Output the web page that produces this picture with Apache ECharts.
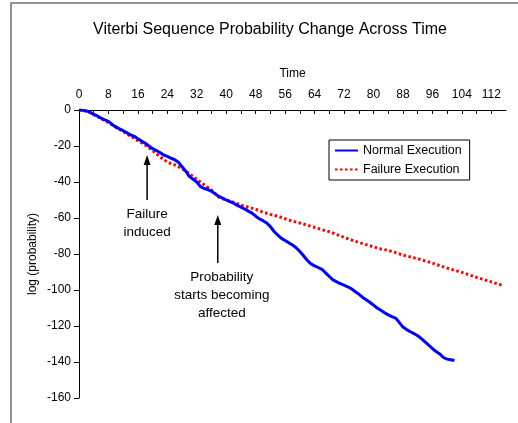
<!DOCTYPE html>
<html><head><meta charset="utf-8">
<script src="https://cdn.jsdelivr.net/npm/echarts@6/dist/echarts.min.js"></script>
<style>html,body{margin:0;padding:0;background:#fff}#c{width:518px;height:423px}</style>
</head><body><div id="c"></div>
<script>
// ---- data ----
const titleText = 'Viterbi Sequence Probability Change Across Time';
const seriesNames = ['Normal Execution', 'Failure Execution'];
const normalTime = [0,1,2,3,4,5,6,7,8,9,10,11,12,13,14,15,16,17,18,19,20,21,22,23,24,25,26,27,28,29,30,31,32,33,34,35,36,37,38,39,40,41,42,43,44,45,46,47,48,49,50,51,52,53,54,55,56,57,58,59,60,61,62,63,64,65,66,67,68,69,70,71,72,73,74,75,76,77,78,79,80,81,82,83,84,85,86,87,88,89,90,91,92,93,94,95,96,97,98,99,100,101,102];
const normalValues = [0,-0.2,-0.5,-1.2,-2.5,-3.3,-4.5,-5.5,-6.3,-8,-9.4,-10.5,-11.5,-12.6,-13.8,-14.6,-16,-17.3,-18.5,-20,-21.5,-22.5,-23.6,-25,-25.8,-26.8,-27.6,-29,-31.5,-34,-37,-38.5,-40,-42.6,-43.6,-44.2,-45.2,-46.6,-48,-49,-50,-50.9,-51.8,-53,-54,-55,-56.2,-57.3,-59,-60.5,-61.5,-62.8,-64.8,-67.5,-69.5,-71.3,-72.5,-73.8,-75,-76.5,-78.6,-81,-83.5,-85.5,-86.6,-87.5,-88.5,-90.5,-92.5,-94.4,-95.5,-96.5,-97.3,-98.2,-99.3,-100.8,-102.3,-104,-105.4,-106.8,-108.4,-110,-111.3,-112.6,-113.8,-114.8,-115.6,-118,-120.6,-122,-123.2,-124.2,-125.4,-127,-128.8,-130.6,-132.5,-134.2,-135.5,-137.5,-138.4,-138.8,-139.2];
const failureTime = [0,2,4,6,8,10,12,14,16,18,20,22,24,26,28,30,32,34,36,38,40,42,44,46,48,50,52,54,56,58,60,62,64,66,68,70,72,74,76,78,80,82,84,86,88,90,92,94,96,98,100,102,104,106,108,110,112,114,115];
const failureValues = [0,-0.6,-2.5,-4.8,-7,-9.5,-12,-14.5,-17,-19.5,-22.5,-26,-29,-30.5,-32.5,-35.5,-38.5,-41.5,-44.5,-48.5,-50,-51.3,-52.8,-54,-55.2,-56.8,-58,-59,-60.4,-61.8,-62.8,-64,-65.2,-66.5,-67.6,-69.2,-70.7,-72.2,-73.6,-74.8,-76,-77.2,-78,-79.2,-80.6,-81.6,-82.6,-83.8,-85,-86.5,-87.8,-89,-90.2,-91.6,-93,-94.2,-95.5,-96.8,-97.3];
const xTickLabels = [0,8,16,24,32,40,48,56,64,72,80,88,96,104,112];
const yTickLabels = [0,-20,-40,-60,-80,-100,-120,-140,-160];
// annotations (data coordinates)
const annotations = [
  {text:'Failure\ninduced', x:18.5, tip:-25, tail:-50, ty:-63},
  {text:'Probability\nstarts becoming\naffected', x:37.7, tip:-58.3, tail:-85, ty:-103, tx:38.8}
];

const FONT = 'Liberation Sans';
const zip = (a,b)=>a.map((v,i)=>[v,b[i]]);
const chart = echarts.init(document.getElementById('c'), null, {renderer:'canvas'});
const option = {
  animation:false,
  backgroundColor:'#fff',
  textStyle:{fontFamily:FONT},
  title:{text:titleText, left:88, top:17, textStyle:{fontFamily:FONT, fontSize:16, fontWeight:'normal', color:'#000'}},
  legend:{
    data:seriesNames, orient:'vertical', left:329, top:140,
    borderColor:'#000', borderWidth:1, padding:[4,8,4,5], itemGap:6,
    itemWidth:23, itemHeight:12,
    itemStyle:{opacity:0},
    textStyle:{fontFamily:FONT, fontSize:12.5, color:'#000'}
  },
  grid:{left:79, top:110, right:12, bottom:25, containLabel:false},
  xAxis:{
    type:'value', position:'top', min:0, max:116, interval:4,
    name:'Time', nameLocation:'middle', nameGap:30,
    nameTextStyle:{fontFamily:FONT, fontSize:12, color:'#000'},
    axisLine:{show:true, onZero:false, lineStyle:{color:'#000', width:1}},
    axisTick:{show:true, inside:true, length:4, lineStyle:{color:'#000'}},
    axisLabel:{margin:9, fontFamily:FONT, fontSize:12, color:'#000', showMaxLabel:false,
      formatter:v=> xTickLabels.indexOf(v)>=0 ? String(v) : ''},
    splitLine:{show:false}
  },
  yAxis:{
    type:'value', min:-160, max:0, interval:20,
    name:'log (probability)', nameLocation:'middle', nameRotate:90, nameGap:40, nameMoveOverlap:false,
    nameTextStyle:{fontFamily:FONT, fontSize:12, color:'#000'},
    axisLine:{show:true, onZero:false, lineStyle:{color:'#000', width:1}},
    axisTick:{show:true, inside:false, length:5, lineStyle:{color:'#000'}},
    axisLabel:{margin:8, fontFamily:FONT, fontSize:12, color:'#000',
      formatter:v=> yTickLabels.indexOf(v)>=0 ? String(v) : ''},
    splitLine:{show:false}
  },
  series:[
    {name:seriesNames[0], type:'line', symbol:'none', data:zip(normalTime, normalValues),
      lineStyle:{color:'#0000ff', width:3}, itemStyle:{color:'#0000ff'}, z:3},
    {name:seriesNames[1], type:'line', symbol:'none', data:zip(failureTime, failureValues),
      lineStyle:{color:'#ff0000', width:3, type:[2.5,2.5]}, itemStyle:{color:'#ff0000'}, z:2}
  ]
};
chart.setOption(option);

const g = [
  {type:'polyline', shape:{points:[[11,423],[11,3],[518,3]]}, style:{stroke:'#707070', lineWidth:1.5, fill:null}, silent:true}
];
annotations.forEach(a=>{
  const tip = chart.convertToPixel({gridIndex:0}, [a.x, a.tip]);
  const tail = chart.convertToPixel({gridIndex:0}, [a.x, a.tail]);
  const tp = chart.convertToPixel({gridIndex:0}, [a.tx!==undefined?a.tx:a.x, a.ty]);
  g.push({type:'line', shape:{x1:tip[0], y1:tip[1]+9, x2:tail[0], y2:tail[1]}, style:{stroke:'#000', lineWidth:1.5}, silent:true});
  g.push({type:'polygon', shape:{points:[[tip[0],tip[1]],[tip[0]-3.5,tip[1]+10],[tip[0]+3.5,tip[1]+10]]}, style:{fill:'#000'}, silent:true});
  g.push({type:'text', x:tp[0], y:tp[1], style:{text:a.text, fontFamily:FONT, fontSize:13.5, lineHeight:18, fill:'#000', align:'center', verticalAlign:'middle'}, silent:true});
});
chart.setOption({graphic:g});
</script></body></html>
